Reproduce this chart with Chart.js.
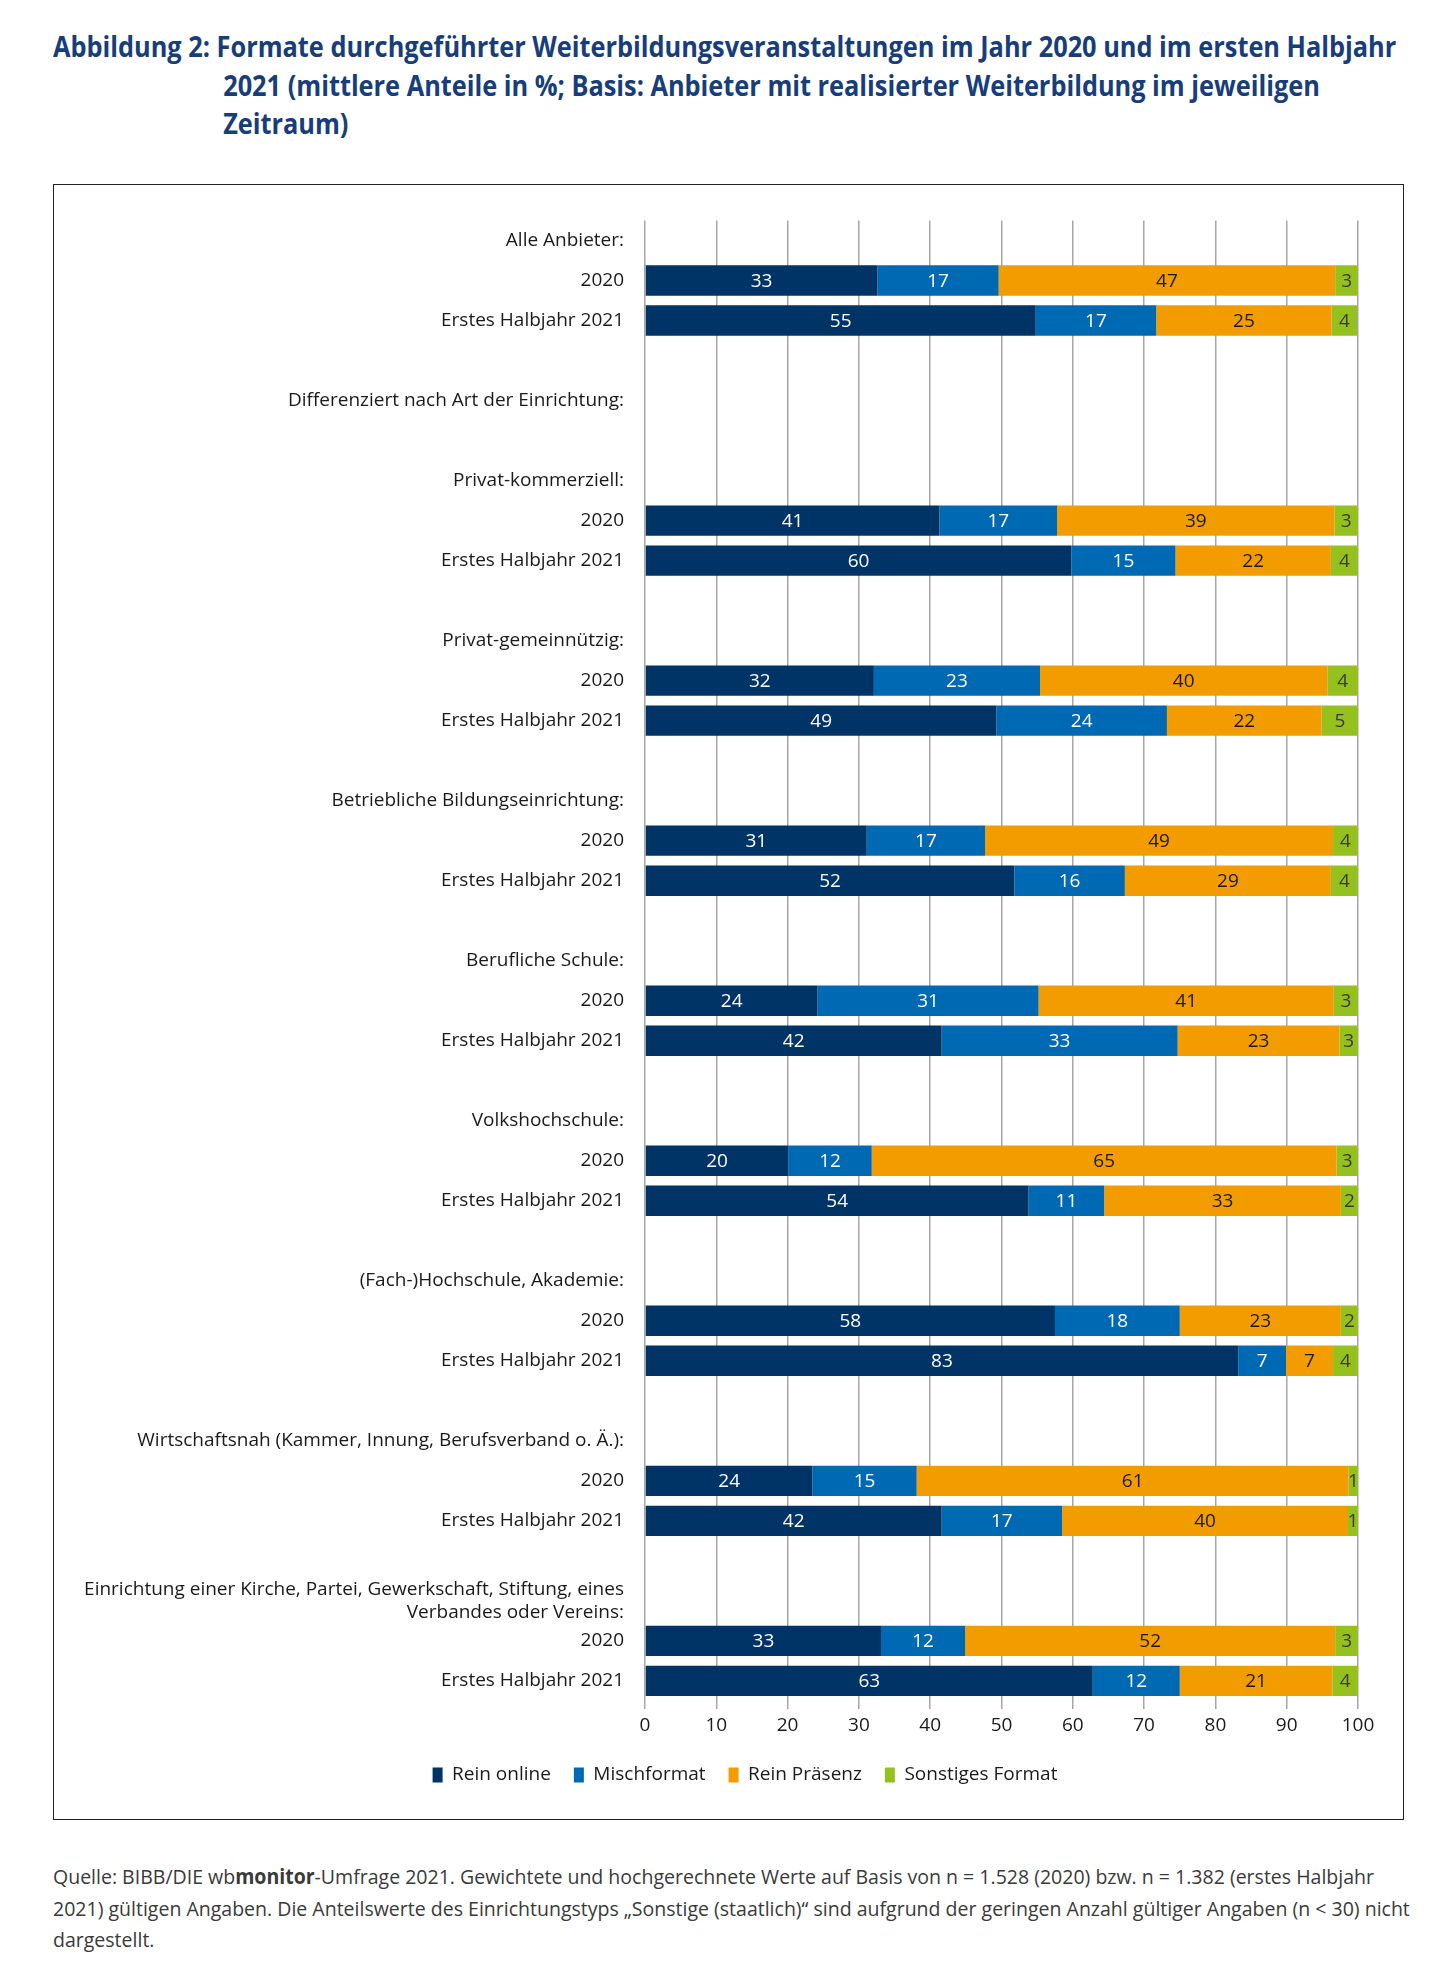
<!DOCTYPE html>
<html lang="de">
<head>
<meta charset="utf-8">
<title>Abbildung 2</title>
<script src="https://cdn.jsdelivr.net/npm/chart.js@4.4.1/dist/chart.umd.min.js"></script>
<style>
  html, body { margin: 0; padding: 0; background: #fff; }
  body { width: 1452px; height: 1988px; position: relative; font-family: "Open Sans", sans-serif; overflow: hidden; }
  #title {
    position: absolute; left: 53px; top: 27px; width: 1500px;
    padding-left: 188px; text-indent: -188px; box-sizing: border-box;
    font-weight: 700; font-size: 28px; line-height: 38.5px; color: #173d7a;
    white-space: nowrap; transform: scaleX(0.905); transform-origin: 0 0;
  }
  #frame {
    position: absolute; left: 53px; top: 184px; width: 1351px; height: 1636px;
    border: 1px solid #222; box-sizing: border-box;
  }
  #wrap { position: relative; width: 1349px; height: 1634px; }
  #note {
    position: absolute; left: 53px; top: 1861px; width: 1500px;
    font-size: 20.5px; line-height: 31.5px; color: #3a3a3a; white-space: nowrap;
    transform: scaleX(0.952); transform-origin: 0 0;
  }
</style>
</head>
<body>
<div id="title">Abbildung 2: Formate durchgeführter Weiterbildungsveranstaltungen im Jahr 2020 und im ersten Halbjahr<br>2021 (mittlere Anteile in %; Basis: Anbieter mit realisierter Weiterbildung im jeweiligen<br>Zeitraum)</div>
<div id="frame"><div id="wrap"><canvas id="chart"></canvas></div></div>
<div id="note">Quelle: BIBB/DIE wb<b>monitor</b>-Umfrage 2021. Gewichtete und hochgerechnete Werte auf Basis von n = 1.528 (2020) bzw. n = 1.382 (erstes Halbjahr<br>2021) gültigen Angaben. Die Anteilswerte des Einrichtungstyps „Sonstige (staatlich)“ sind aufgrund der geringen Anzahl gültiger Angaben (n &lt; 30) nicht<br>dargestellt.</div>
<script>
// Gruppen (Kopfzeilen) und Zeiträume
const groupNames = [
  'Alle Anbieter:',
  'Privat-kommerziell:',
  'Privat-gemeinnützig:',
  'Betriebliche Bildungseinrichtung:',
  'Berufliche Schule:',
  'Volkshochschule:',
  '(Fach-)Hochschule, Akademie:',
  'Wirtschaftsnah (Kammer, Innung, Berufsverband o. Ä.):',
  ['Einrichtung einer Kirche, Partei, Gewerkschaft, Stiftung, eines', 'Verbandes oder Vereins:'],
];
const subHeader = 'Differenziert nach Art der Einrichtung:';
const periods = ['2020', 'Erstes Halbjahr 2021'];

const seriesNames = ['Rein online', 'Mischformat', 'Rein Präsenz', 'Sonstiges Format'];

// Anteile in %, je Gruppe: 2020, Erstes Halbjahr 2021 (aus Balkenlängen geschätzt)
const reinOnline   = [32.6, 54.8, 41.3, 59.8, 32.1, 49.3, 31.1, 51.8, 24.2, 41.6, 20.1, 53.8, 57.5, 83.2, 23.5, 41.6, 33.1, 62.8];
const mischformat  = [17.0, 16.9, 16.5, 14.6, 23.3, 23.9, 16.6, 15.5, 31.0, 33.1, 11.7, 10.6, 17.5, 6.7, 14.6, 16.9, 11.8, 12.2];
const reinPraesenz = [47.2, 24.6, 38.9, 21.8, 40.3, 21.7, 48.8, 28.9, 41.4, 22.7, 65.2, 33.2, 22.6, 6.6, 60.6, 40.1, 51.9, 21.4];
const sonstiges    = [3.2, 3.6, 3.3, 3.8, 4.3, 5.1, 3.5, 3.8, 3.4, 2.6, 3.0, 2.4, 2.4, 3.5, 1.3, 1.4, 3.2, 3.6];

const xTicks = [0, 10, 20, 30, 40, 50, 60, 70, 80, 90, 100];

const barColors = ['#003366', '#0069b4', '#f39c00', '#95c11f'];
const textColors = ['#ffffff', '#ffffff', '#1a1a1a', '#3a3a3a'];
const FONT = '"Open Sans", sans-serif';

// Zeilen aufbauen: Kopfzeile, 2020, 2021, Leerzeile
const rowLabels = [];
const rowIndex = []; // Position im Wertearray oder null
groupNames.forEach((name, g) => {
  rowLabels.push(name); rowIndex.push(null);
  periods.forEach((p, k) => { rowLabels.push(p); rowIndex.push(g * 2 + k); });
  if (g < groupNames.length - 1) { rowLabels.push(''); rowIndex.push(null); }
  if (g === 0) {
    rowLabels.push(subHeader); rowIndex.push(null);
    rowLabels.push(''); rowIndex.push(null);
  }
});

function expand(values) {
  return rowIndex.map((i) => (i === null ? null : values[i]));
}

const segmentLabels = {
  id: 'segmentLabels',
  afterDatasetsDraw(chart) {
    const { ctx } = chart;
    ctx.save();
    ctx.font = `19px ${FONT}`;
    ctx.textAlign = 'center';
    ctx.textBaseline = 'middle';
    chart.data.datasets.forEach((ds, di) => {
      const meta = chart.getDatasetMeta(di);
      meta.data.forEach((bar, i) => {
        const v = ds.data[i];
        if (v === null || v === undefined) return;
        const { x, base, y } = bar.getProps(['x', 'base', 'y'], true);
        ctx.fillStyle = textColors[di];
        ctx.fillText(String(Math.round(v)), (x + base) / 2, y + 1);
      });
    });
    ctx.restore();
  },
};

// lange Kategorienamen nicht am Achsenrand abschneiden
const keepLongLabels = {
  id: 'keepLongLabels',
  beforeDraw(chart) {
    chart.scales.y._computeLabelArea = () => undefined;
  },
};

const seriesValues = [reinOnline, mischformat, reinPraesenz, sonstiges];
const padLeft = 78;

new Chart(document.getElementById('chart'), {
  type: 'bar',
  data: {
    labels: rowLabels,
    datasets: seriesNames.map((name, i) => ({
      label: name,
      data: expand(seriesValues[i]),
      backgroundColor: barColors[i],
      borderWidth: 0,
      categoryPercentage: 1,
      barPercentage: 0.76,
    })),
  },
  options: {
    indexAxis: 'y',
    responsive: true,
    maintainAspectRatio: false,
    animation: false,
    layout: { padding: { top: 35.5, right: 45, left: padLeft, bottom: 24.5 } },
    scales: {
      x: {
        stacked: true,
        min: 0,
        max: 100,
        afterBuildTicks(scale) { scale.ticks = xTicks.map((v) => ({ value: v })); },
        afterFit(scale) { scale.height = 41.6; },
        grid: { color: '#a6a6a6', lineWidth: 1.5, tickLength: 8, drawTicks: true },
        border: { display: false },
        ticks: { font: { family: FONT, size: 19 }, color: '#1a1a1a', padding: 5 },
      },
      y: {
        stacked: true,
        afterFit(scale) { scale.width = 591 - padLeft; },
        grid: { display: false },
        border: { display: false },
        ticks: { autoSkip: false, font: { family: FONT, size: 19, lineHeight: 1.2 }, color: '#1a1a1a', padding: 13 },
      },
    },
    plugins: {
      legend: {
        position: 'bottom',
        labels: {
          boxWidth: 10,
          boxHeight: 15,
          padding: 23,
          color: '#1a1a1a',
          font: { family: FONT, size: 19 },
        },
      },
      tooltip: { enabled: false },
    },
  },
  plugins: [segmentLabels, keepLongLabels],
});
</script>
</body>
</html>
